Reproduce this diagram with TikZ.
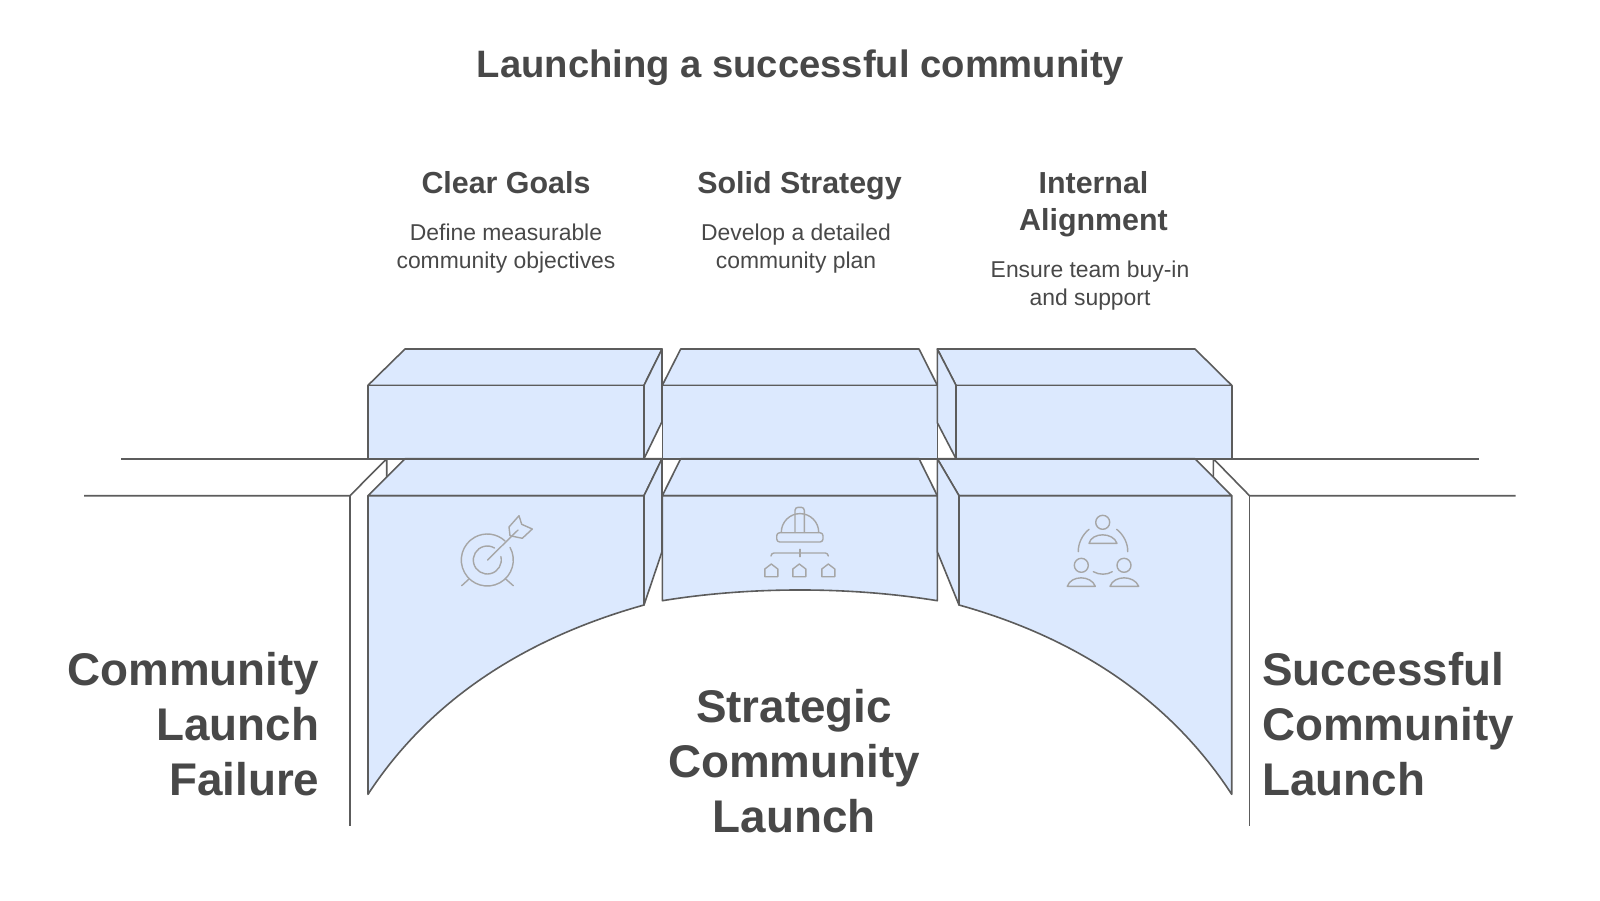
\documentclass[tikz,border=0pt]{standalone}
\usepackage{fontspec}
\setmainfont{Liberation Sans}
\definecolor{ink}{HTML}{484848}
\definecolor{edge}{HTML}{5C5C5C}
\definecolor{panel}{HTML}{DCE9FE}
\definecolor{icon}{HTML}{A6A6A6}
\tikzset{
  pface/.style={fill=panel,draw=edge,line width=1.6pt,line join=round},
  wall/.style={draw=edge,line width=1.6pt,line join=round},
  ico/.style={draw=icon,line width=1.4pt,line join=round,line cap=round},
  titletext/.style={text=ink,font=\bfseries\fontsize{38.2}{42}\selectfont,align=center,inner sep=0pt},
  headtext/.style={text=ink,font=\bfseries\fontsize{30.4}{37}\selectfont,align=center,inner sep=0pt},
  bodytext/.style={text=ink,font=\fontsize{22.9}{27.7}\selectfont,align=center,inner sep=0pt},
  bigc/.style={text=ink,font=\bfseries\fontsize{45.8}{55.3}\selectfont,align=center,inner sep=0pt},
  bigl/.style={text=ink,font=\bfseries\fontsize{45.8}{55.3}\selectfont,align=left,inner sep=0pt},
  bigr/.style={text=ink,font=\bfseries\fontsize{45.8}{55.3}\selectfont,align=right,inner sep=0pt},
}
\begin{document}
\begin{tikzpicture}[x=1pt,y=-1pt]
\useasboundingbox (0,0) rectangle (1600,900);
% walls
\draw[wall] (121,458.7) -- (1479,458.7);
\draw[wall] (84,495.7) -- (350,495.7) -- (386.7,458.7) -- (386.7,478);
\draw[wall] (350,495.7) -- (350,826);
\draw[wall] (1515.7,495.7) -- (1249.5,495.7) -- (1213.3,458.7) -- (1213.3,478);
\draw[wall] (1249.5,495.7) -- (1249.5,826);
% upper blocks
\draw[pface] (368,385.3) -- (405,349) -- (662,349) -- (644,385.3) -- cycle;
\draw[pface] (644,385.3) -- (662,349) -- (662,421.7) -- (644,458.7) -- cycle;
\draw[pface] (368,385.3) rectangle (644,458.7);
\draw[pface] (662.3,385.3) -- (680.7,349) -- (919,349) -- (937.3,385.3) -- cycle;
\draw[pface] (662.3,385.3) rectangle (937.3,458.7);
\draw[pface] (937.3,349) -- (1195,349) -- (1231.7,385.3) -- (956,385.3) -- cycle;
\draw[pface] (937.3,349) -- (956,385.3) -- (956,458.7) -- (937.3,422.7) -- cycle;
\draw[pface] (956,385.3) rectangle (1231.7,458.7);
% lower blocks
\draw[pface] (368,495.7) -- (405,458.7) -- (662,458.7) -- (644,495.7) -- cycle;
\draw[pface] (644,495.7) -- (662,458.7) -- (662,551.7) -- (644,605) -- cycle;
\draw[pface] (368,495.7) -- (644,495.7) -- (644,605) .. controls (540,634) and (436,690) .. (368,794.3) -- cycle;
\draw[pface] (662.3,495.7) -- (680.7,458.7) -- (919,458.7) -- (937.3,495.7) -- cycle;
\draw[pface] (662.3,495.7) -- (937.3,495.7) -- (937.3,600.7) .. controls (850,586.4) and (750,586.4) .. (662.3,600.7) -- cycle;
\draw[pface] (937.3,458.7) -- (1195,458.7) -- (1231.7,495.7) -- (959,495.7) -- cycle;
\draw[pface] (937.3,458.7) -- (959,495.7) -- (959,605) -- (937.3,551.7) -- cycle;
\draw[pface] (959,495.7) -- (1231.7,495.7) -- (1231.7,794.3) .. controls (1163.7,690) and (1063,634) .. (959,605) -- cycle;
\draw[wall] (121,458.7) -- (1479,458.7);
% target icon
\draw[ico] (487.3,560) ++(-29:26) arc[start angle=-29,delta angle=342,radius=26];
\draw[ico] (487.3,560) ++(-14:14) arc[start angle=-14,delta angle=315,radius=14];
\draw[ico] (487.5,560) -- (518,530);
\draw[ico] (509,527) -- (519,515.7) -- (521.7,524.3) -- (532.3,529) -- (522.3,538.3) -- (510,535.7) -- cycle;
\draw[ico] (461.7,585.7) -- (469,579);
\draw[ico] (505.7,579) -- (513.3,585.7);
% helmet icon
\draw[ico] (781.3,532.3) arc[start angle=180,end angle=360,radius=18.7];
\draw[ico,rounded corners=3pt] (776.7,532.7) rectangle (823,542);
\draw[ico,rounded corners=3pt] (795,532.3) -- (795,507.3) -- (804.3,507.3) -- (804.3,532.3);
\draw[ico] (800,549.3) -- (800,556.7);
\draw[ico,rounded corners=3pt] (771,556) -- (771,553) -- (828.3,553) -- (828.3,556);
\foreach \hx in {771.3,799.3,828.3}{
  \draw[ico] (\hx-6.5,576.7) -- (\hx-6.5,569) -- (\hx,564) -- (\hx+6.5,569) -- (\hx+6.5,576.7) -- cycle;
}
% people icon
\draw[ico] (1102.7,522.3) circle[radius=7];
\draw[ico] (1089,543.3) .. controls (1092,532) and (1113,532) .. (1117,543.3) -- cycle;
\draw[ico] (1081.3,565.3) circle[radius=7];
\draw[ico] (1067.3,586.3) .. controls (1071,575) and (1091,575) .. (1095.3,586.3) -- cycle;
\draw[ico] (1124,565.3) circle[radius=7];
\draw[ico] (1110,586.3) .. controls (1114,575) and (1134,575) .. (1138.7,586.3) -- cycle;
\draw[ico] (1089,529.3) .. controls (1082,535) and (1078,544) .. (1078.3,551.7);
\draw[ico] (1116.7,529.3) .. controls (1124,535) and (1128,544) .. (1127.7,551.7);
\draw[ico] (1093.3,571.7) .. controls (1099,575) and (1107,575) .. (1112.3,571.7);
% texts
\node[titletext] (title) at (800.5,67.5) {Launching a successful community};
\node[headtext] (h1) at (506,182.5) {Clear Goals};
\node[headtext] (h2) at (799.5,185.5) {Solid Strategy};
\node[headtext] (h3) at (1093.5,204) {Internal\\Alignment};
\node[bodytext] (b1) at (506,248.5) {Define measurable\\community objectives};
\node[bodytext] (b2) at (796,248.5) {Develop a detailed\\community plan};
\node[bodytext] (b3) at (1090,285.5) {Ensure team buy-in\\and support};
\node[bigr,anchor=east] (left) at (319.5,724) {Community\\Launch\\Failure};
\node[bigc] (mid) at (794,761) {Strategic\\Community\\Launch};
\node[bigl,anchor=west] (right) at (1262,724) {Successful\\Community\\Launch};
\end{tikzpicture}
\end{document}
